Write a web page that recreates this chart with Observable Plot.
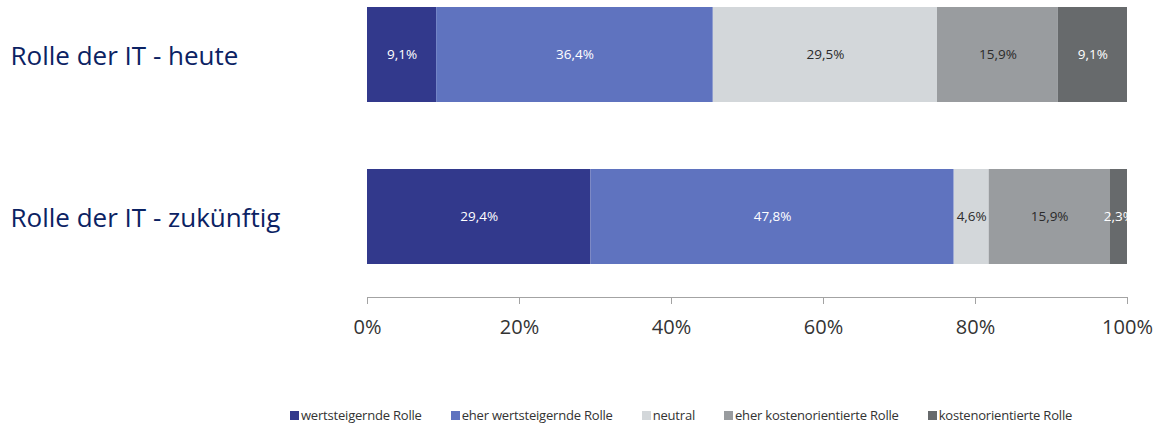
<!DOCTYPE html>
<html><head><meta charset="utf-8">
<script src="https://cdn.jsdelivr.net/npm/d3@7"></script>
<script src="https://cdn.jsdelivr.net/npm/@observablehq/plot@0.6"></script>
<style>
body{margin:0;background:#fff;font-family:"Open Sans",sans-serif;position:relative;width:1155px;height:425px;overflow:hidden}
#chart{position:absolute;left:0;top:0}
#legend{position:absolute;left:290px;top:406px;display:flex;gap:29px;font-size:13px;color:#333;letter-spacing:-0.2px}
#legend span.item{display:flex;align-items:center;white-space:nowrap}
#legend span.sw{display:inline-block;width:9px;height:9px;margin-right:2px}
</style></head><body><div id="chart"></div><div id="legend"></div>
<script>
const rows = ["Rolle der IT - heute", "Rolle der IT - zukünftig"];
const categories = ["wertsteigernde Rolle", "eher wertsteigernde Rolle", "neutral", "eher kostenorientierte Rolle", "kostenorientierte Rolle"];
const heute = [9.1, 36.4, 29.5, 15.9, 9.1];
const zukuenftig = [29.4, 47.8, 4.6, 15.9, 2.3];
const colors = ["#32398c", "#5f73bf", "#d3d7da", "#999c9f", "#676a6c"];
const darkTextCats = ["neutral", "eher kostenorientierte Rolle"];
const xTicks = [0, 20, 40, 60, 80, 100];

const series = [heute, zukuenftig];
const data = rows.flatMap((r, i) => series[i].map((v, j) => ({
  row: r, cat: categories[j], value: v,
  label: v.toFixed(1).replace(".", ",") + "%"
})));

const plot = Plot.plot({
  width: 1155,
  height: 370,
  marginLeft: 367,
  marginRight: 28,
  marginTop: 7,
  marginBottom: 73,
  insetBottom: 33,
  style: {fontFamily: "'Open Sans', sans-serif", background: "#fff"},
  x: {domain: [0, 100], axis: null},
  y: {domain: rows, axis: null, paddingInner: 0.414, paddingOuter: 0},
  color: {domain: categories, range: colors},
  marks: [
    Plot.barX(data, Plot.stackX({x: "value", y: "row", fill: "cat", order: null})),
    Plot.textX(data, Plot.stackX({x: "value", y: "row", order: null,
      text: d => darkTextCats.includes(d.cat) ? null : d.label,
      fill: "#ffffff", fontSize: 13.5, clip: true})),
    Plot.textX(data, Plot.stackX({x: "value", y: "row", order: null,
      text: d => darkTextCats.includes(d.cat) ? d.label : null,
      fill: "#2b2b2b", fontSize: 13.5, clip: true})),
    Plot.text(rows, {y: d => d, text: d => d, frameAnchor: "left", dx: -357, dy: 2,
      textAnchor: "start", fontSize: 26, fill: "#0b2263", letterSpacing: "-0.3px"}),
    Plot.frame({anchor: "bottom", stroke: "#a3a3a3"}),
    Plot.axisX({ticks: xTicks, tickFormat: d => d + "%", tickSize: 7, tickPadding: 15,
      fontSize: 20, stroke: "#a3a3a3", fill: "#333", label: null})
  ]
});
document.getElementById("chart").appendChild(plot);

const legend = document.getElementById("legend");
categories.forEach((c, i) => {
  const item = document.createElement("span");
  item.className = "item";
  const sw = document.createElement("span");
  sw.className = "sw";
  sw.style.background = colors[i];
  item.appendChild(sw);
  item.appendChild(document.createTextNode(c));
  legend.appendChild(item);
});
</script>
</body></html>
